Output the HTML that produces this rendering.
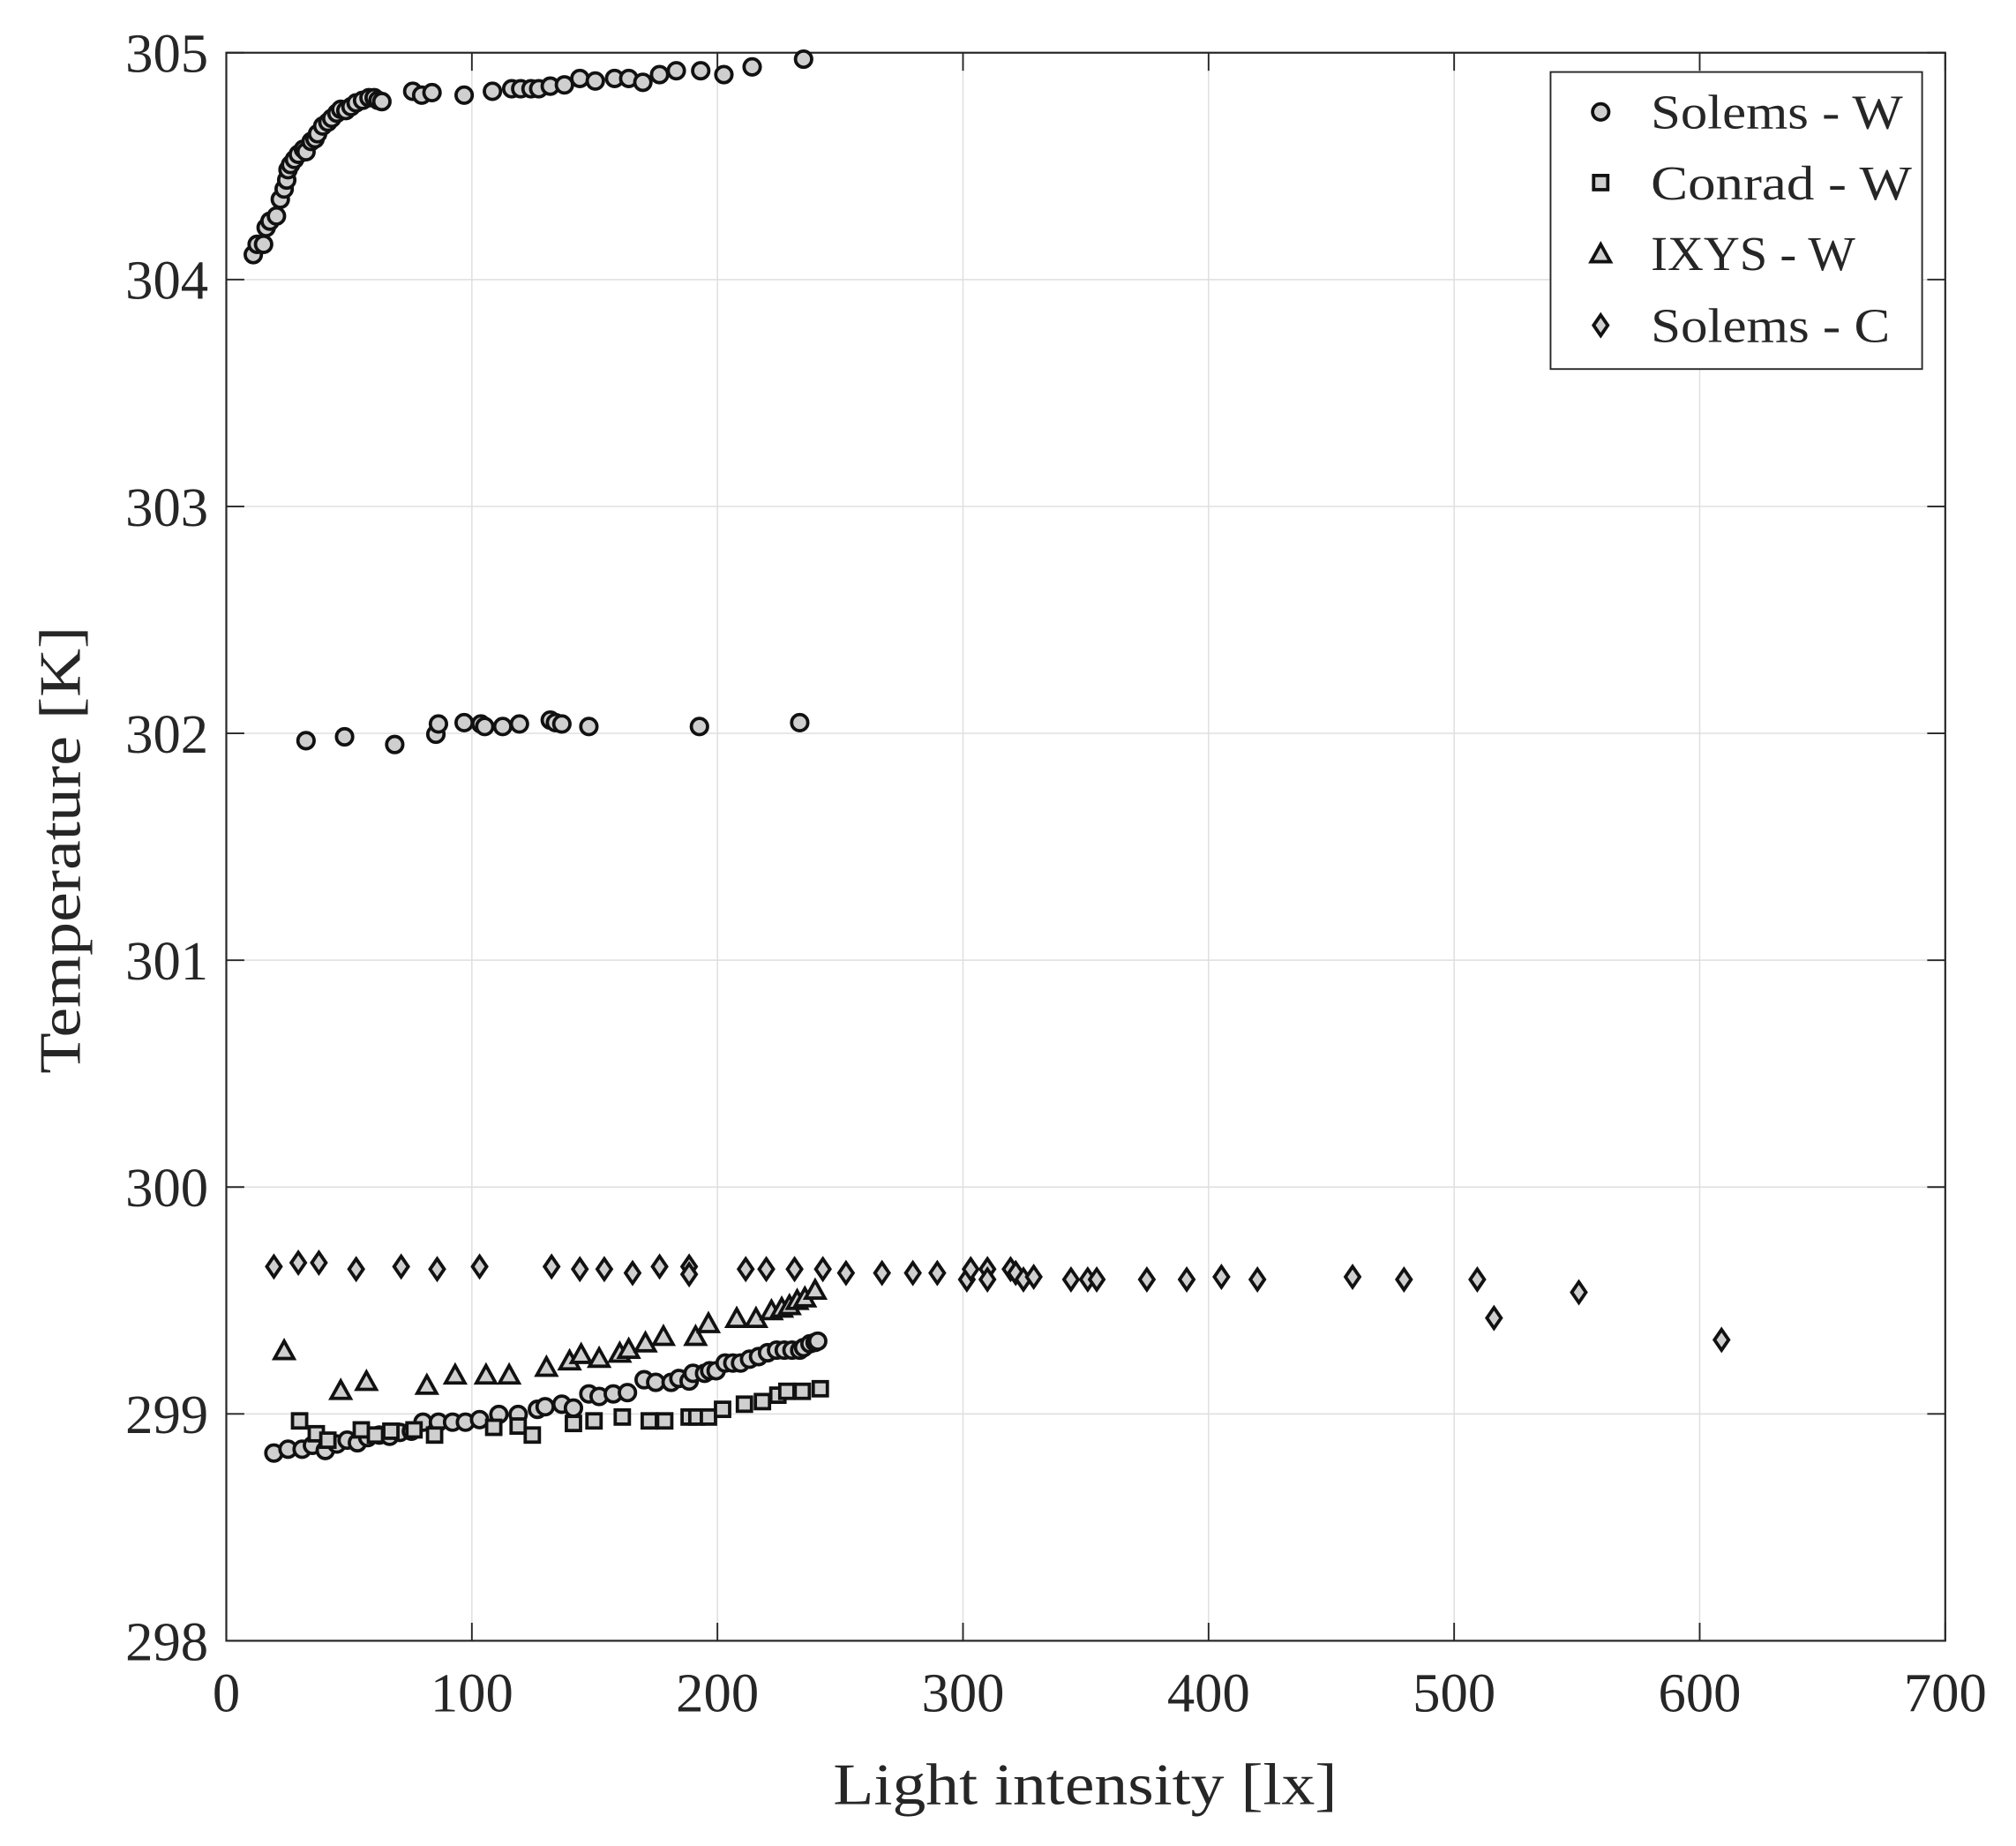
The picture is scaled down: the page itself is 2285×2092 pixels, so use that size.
<!DOCTYPE html>
<html><head><meta charset="utf-8"><style>
html,body{margin:0;padding:0;background:#fff;}
svg{display:block;}
text{font-family:"Liberation Serif",serif;fill:#262626;}
</style></head><body>
<svg id="s" width="2285" height="2092" viewBox="0 0 1568 1435.6" xmlns="http://www.w3.org/2000/svg">
<g id="grid" stroke="#dedede" stroke-width="1"></g>
<g id="ticks" stroke="#262626" stroke-width="1.3"></g>
<rect x="176" y="41" width="1337" height="1235" fill="none" stroke="#262626" stroke-width="1.5"/>
<g id="labels" font-size="43"></g>
<text x="844" y="1403" font-size="46" text-anchor="middle" textLength="392" lengthAdjust="spacingAndGlyphs">Light intensity [lx]</text>
<text transform="translate(62,661) rotate(-90)" font-size="46" text-anchor="middle" textLength="348" lengthAdjust="spacingAndGlyphs">Temperature [K]</text>
<g id="pts" stroke="#111" stroke-width="2.6" fill="#cfcfcf"></g>
<rect x="1206" y="56" width="289" height="231" fill="#fff" stroke="#262626" stroke-width="1.3"/>
<g id="leg" stroke="#111" stroke-width="2.6" fill="#cfcfcf"></g>
<g font-size="38">
<text x="1284" y="100" textLength="196" lengthAdjust="spacingAndGlyphs">Solems - W</text>
<text x="1284" y="155" textLength="203" lengthAdjust="spacingAndGlyphs">Conrad - W</text>
<text x="1284" y="210" textLength="159" lengthAdjust="spacingAndGlyphs">IXYS - W</text>
<text x="1284" y="266" textLength="186" lengthAdjust="spacingAndGlyphs">Solems - C</text>
</g>
</svg>
<script>
var NS="http://www.w3.org/2000/svg";
function el(p,t,a){var e=document.createElementNS(NS,t);for(var k in a)e.setAttribute(k,a[k]);p.appendChild(e);return e;}
var g=document.getElementById('grid'),tk=document.getElementById('ticks'),lb=document.getElementById('labels');
for(var i=0;i<=7;i++){var x=176+i*191;
 if(i>0&&i<7)el(g,'line',{x1:x,y1:41,x2:x,y2:1276});
 el(tk,'line',{x1:x,y1:1276,x2:x,y2:1262});el(tk,'line',{x1:x,y1:41,x2:x,y2:55});
 var t=el(lb,'text',{x:x,y:1331,'text-anchor':'middle'});t.textContent=String(i*100);}
for(var j=0;j<=7;j++){var y=41+j*176.43;
 if(j>0&&j<7)el(g,'line',{x1:176,y1:y,x2:1513,y2:y});
 el(tk,'line',{x1:176,y1:y,x2:190,y2:y});el(tk,'line',{x1:1513,y1:y,x2:1499,y2:y});
 var t=el(lb,'text',{x:162,y:y+15,'text-anchor':'end'});t.textContent=String(305-j);}
var P=document.getElementById('pts');
function circ(p,x,y){el(p,'circle',{cx:x,cy:y,r:6.3});}
function sq(p,x,y){el(p,'rect',{x:x-5.5,y:y-5.5,width:11,height:11});}
function tri(p,x,y){el(p,'polygon',{points:(x)+','+(y-8)+' '+(x+7.5)+','+(y+5.5)+' '+(x-7.5)+','+(y+5.5)});}
function dia(p,x,y){el(p,'polygon',{points:x+','+(y-8)+' '+(x+5.5)+','+y+' '+x+','+(y+8)+' '+(x-5.5)+','+y});}
var cW=[[197,198],[200,190],[205,190],[207,177],[210,172],[215,168],[218,155],[221,147],[223,140],[224,132],[226,128],[229,124],[232,120],[236,116],[238,118],[242,110],[245,108],[247,104],[251,98],[255,95],[258,92],[262,88],[265,85],[269,86],[273,83],[277,80],[282,78],[287,76],[291,76],[294,78],[297,79],[321,71],[328,74],[336,72],[361,74],[383,71],[398,69],[405,69],[413,69],[419,69],[428,67],[439,66],[451,61],[463,63],[478,61],[489,61],[500,64],[513,58],[526,55],[545,55],[563,58],[585,52],[625,46],
[238,576],[268,573],[307,579],[339,571],[341,563],[361,562],[374,563],[377,565],[391,565],[404,563],[428,560],[432,562],[437,563],[458,565],[544,565],[622,562],
[213,1130],[224,1127],[235,1127],[243,1124],[253,1128],[262,1123],[270,1120],[278,1122],[286,1118],[295,1116],[303,1117],[311,1114],[320,1113],[329,1106],[341,1106],[352,1106],[362,1106],[373,1104],[388,1100],[403,1100],[418,1096],[424,1094],[437,1092],[446,1095],[458,1084],[466,1086],[477,1084],[488,1083],[501,1073],[510,1075],[522,1075],[528,1072],[536,1074],[539,1068],[548,1068],[552,1066],[557,1066],[564,1060],[570,1060],[576,1060],[583,1057],[590,1055],[597,1052],[604,1050],[610,1050],[616,1050],[622,1050],[625,1048],[630,1045],[634,1044],[636,1043]];
var cn=[[233,1105],[246,1115],[255,1120],[281,1112],[292,1116],[304,1113],[322,1112],[338,1116],[384,1110],[403,1109],[414,1116],[446,1107],[462,1105],[484,1102],[505,1105],[517,1105],[536,1102],[542,1102],[551,1102],[562,1096],[579,1092],[593,1090],[605,1085],[612,1082],[624,1082],[638,1080]];
var ix=[[221,1051],[265,1082],[285,1075],[332,1078],[354,1070],[378,1070],[396,1070],[425,1064],[443,1059],[452,1054],[466,1057],[482,1053],[489,1050],[502,1045],[516,1040],[541,1040],[551,1030],[573,1026],[588,1026],[600,1020],[608,1018],[614,1016],[620,1012],[626,1010],[634,1004]];
var sc=[[213,985],[232,982],[248,982],[277,987],[312,985],[340,987],[373,985],[429,985],[451,987],[470,987],[492,990],[513,985],[536,985],[536,991],[580,987],[596,987],[618,987],[640,987],[658,990],[686,990],[710,990],[729,990],[752,995],[755,987],[768,987],[768,995],[786,987],[790,990],[796,995],[804,993],[833,995],[846,995],[853,995],[892,995],[923,995],[950,993],[978,995],[1052,993],[1092,995],[1149,995],[1162,1025],[1228,1005],[1339,1042]];
cW.forEach(function(p){circ(P,p[0],p[1]);});
cn.forEach(function(p){sq(P,p[0],p[1]);});
ix.forEach(function(p){tri(P,p[0],p[1]);});
sc.forEach(function(p){dia(P,p[0],p[1]);});
var L=document.getElementById('leg');
circ(L,1245,87);sq(L,1245,142);tri(L,1245,198);dia(L,1245,253);
</script>
</body></html>
